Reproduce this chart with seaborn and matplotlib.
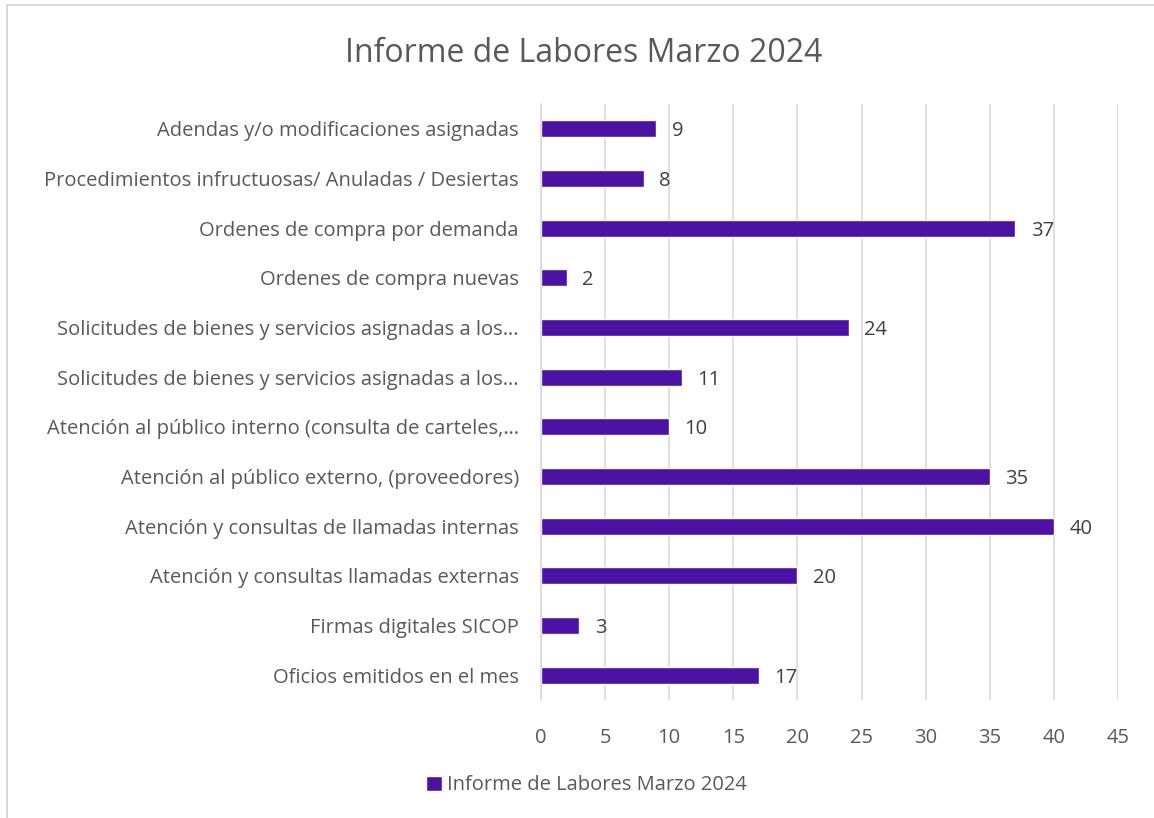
import matplotlib.pyplot as plt
import seaborn as sns
import pandas as pd
from matplotlib.patches import Rectangle

sns.set_style('white')
plt.rcParams['font.family'] = ['Open Sans', 'DejaVu Sans']

categorias = [
    "Adendas y/o modificaciones asignadas",
    "Procedimientos infructuosas/ Anuladas / Desiertas",
    "Ordenes de compra por demanda",
    "Ordenes de compra nuevas",
    "Solicitudes de bienes y servicios asignadas a los…",
    "Solicitudes de bienes y servicios asignadas a los…",
    "Atención al público interno (consulta de carteles,…",
    "Atención al público externo, (proveedores)",
    "Atención y consultas de llamadas internas",
    "Atención y consultas llamadas externas",
    "Firmas digitales SICOP",
    "Oficios emitidos en el mes",
]
valores = [9, 8, 37, 2, 24, 11, 10, 35, 40, 20, 3, 17]
serie = "Informe de Labores Marzo 2024"

df = pd.DataFrame({'pos': [str(i) for i in range(len(valores))], 'valor': valores})

color = '#4B12A3'
gris = '#595959'
fs = 14.5

fig = plt.figure(figsize=(11.54, 8.18), dpi=100)
ax = fig.add_axes([0.4688, 0.1443, 0.5, 0.7286])
sns.barplot(data=df, x='valor', y='pos', color=color, width=0.34, ax=ax,
            label=serie, saturation=1)

ax.set_xlim(0, 45)
ax.set_xticks(range(0, 46, 5))
ax.set_yticks(range(len(categorias)))
ax.set_yticklabels(categorias)
ax.set_xlabel('')
ax.set_ylabel('')
ax.tick_params(axis='both', length=0, colors=gris, labelsize=fs)
ax.tick_params(axis='y', pad=16)
ax.tick_params(axis='x', pad=20)
ax.xaxis.grid(True, color='#D9D9D9', linewidth=1.2)
ax.set_axisbelow(True)
for s in ['top', 'right', 'bottom']:
    ax.spines[s].set_visible(False)
ax.spines['left'].set_color('#D9D9D9')
ax.spines['left'].set_linewidth(1.2)

for i, v in enumerate(valores):
    ax.text(v + 1.2, i + 0.05, str(v), va='center', ha='left', fontsize=fs, color='#404040')

fig.suptitle(serie, x=0.506, y=0.955, fontsize=23, color=gris)

leg = ax.legend(loc='center', bbox_to_anchor=(0.508, 0.04), bbox_transform=fig.transFigure,
                frameon=False, fontsize=fs, handlelength=0.8, handleheight=0.8,
                handletextpad=0.25)
for t in leg.get_texts():
    t.set_color(gris)

fig.patches.append(Rectangle((0.006, -0.01), 1.5, 1.004, transform=fig.transFigure,
                             fill=False, edgecolor='#D9D9D9', linewidth=1.5))

fig.savefig('out.png', dpi=100)
